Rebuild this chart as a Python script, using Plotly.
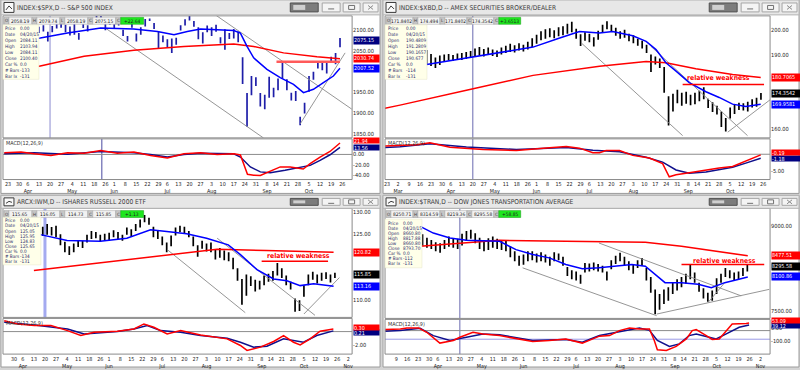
import plotly.graph_objects as go
import pandas as pd

W, H = 800, 370
FONT = "Liberation Sans Narrow, Arial Narrow, DejaVu Sans Condensed, Liberation Sans, Arial, sans-serif"

# ------------------------------------------------------------------ calendar
HOLIDAYS = ["2015-04-03", "2015-05-25", "2015-07-03", "2015-09-07"]
CAL_START, CAL_END = "2015-02-23", "2015-11-06"
MARK_DATE = "2015-04-20"
INFO_LABELS = ["Price", "Date", "Open", "High", "Low", "Close", "Car %", "# Bars", "Bar Ix"]
HEAD_LABELS = ["O", "H", "L", "C", "C"]
MACD_NAME = "MACD(12,26,9)"
NOTE = "relative weakness"
# every "*_day" value is a trading-day number counted from CAL_START

# ------------------------------------------------------------------ S&P 500
spx_title = "INDEX:$SPX,D -- S&P 500 INDEX"
spx_head = ["2058.19", "2079.74", "2058.19", "2075.15"]
spx_change = "+22.64"
spx_info = ["0.00", "04/20/15", "2084.11", "2103.94", "2084.11", "2100.40", "0.0", "-133", "-131"]
spx_first_bar = "2015-04-13"
spx_low = [2092, 2096, 2072, 2094, 2103, 2105, 2094, 2086, 2088, 2076,
           2104, 2096, 2117, 2122, 2123, 2099, 2112, 2102, 2110, 2085,
           2072, 2105, 2072, 2088, 2108, 2121, 2102, 2056, 2070, 2058,
           2044, 2064, 2098, 2110, 2122, 2107, 2077, 2067, 2094, 2085,
           2095, 2067, 2052, 2078, 2079, 2070, 1970, 1867, 1943, 1965,
           1916, 1909, 1937, 1938, 1955, 1983, 1955, 1930, 1929, 1871,
           1899, 1951, 1980, 2007, 2003, 1995, 2020, 2017, 2058]
spx_high = [2107, 2111, 2095, 2109, 2120, 2125, 2112, 2108, 2114, 2092,
            2117, 2111, 2123, 2134, 2133, 2127, 2122, 2119, 2122, 2100,
            2085, 2115, 2091, 2106, 2126, 2127, 2116, 2096, 2086, 2077,
            2079, 2081, 2111, 2125, 2133, 2121, 2106, 2094, 2110, 2106,
            2112, 2082, 2101, 2092, 2102, 2096, 2034, 1948, 1989, 1986,
            1948, 1944, 1987, 1961, 1983, 2021, 1981, 1949, 1953, 1891,
            1925, 1989, 1999, 2020, 2022, 2024, 2035, 2044, 2080]
spx_ma_day = [30, 34.6, 46.9, 61.9, 76.8, 87.5, 95, 101, 107, 122, 125, 128, 131, 137, 143, 149, 153.5, 158, 162.5, 167, 170]
spx_ma = [2078, 2080, 2092, 2104, 2101.6, 2096, 2088, 2096, 2101.6, 2098, 2092, 2060, 2032.5, 2004.8, 1985, 1969, 1949, 1957, 1973, 1989, 2007.5]
spx_ma200_day = [30, 34.6, 54.4, 76.9, 99.5, 122, 131, 144.5, 159.6, 170]
spx_ma200 = [2008, 2013, 2036.5, 2050.7, 2060, 2066, 2060, 2044.5, 2035, 2030.7]
spx_macd_day = [18.3, 25.9, 31.9, 39.4, 46.9, 54.4, 61.9, 69.4, 76.9, 84.4, 92, 99.5, 107, 114.5, 122,
                125, 128.2, 131, 134, 138.5, 143, 147.5, 152, 153.4, 156.5, 161, 165.5, 170]
spx_macd = [3.2, 4.6, 1.3, -1.9, 3.2, 2.5, 7.6, 2.5, 4.6, -1.9, -6.9, 1.3, 3.2, 0, 1.3,
            -1, -38, -40, -40.5, -33, -24, -24, -27, -28, -17.7, -5, 5.7, 21.9]
spx_sig_day = [18.3, 31.9, 46.9, 61.9, 76.9, 84.4, 92, 99.5, 107, 114.5, 122, 125, 129.5, 134, 138.5, 145.2, 152, 156.5, 161, 165.5, 170]
spx_sig = [1.3, 3.2, 0.3, 5.7, 3.2, 0, -5, 0, 2.5, 1.3, 1.3, -5, -24, -33.5, -35, -30.5, -24, -21, -11.4, -0.6, 13.6]
spx_trend_day = [[64, 135.5], [113.7, 175.3], [152, 172.3]]
spx_trend_val = [[2104, 1840], [2135.7, 1909.5], [1874, 2044.5]]
spx_resist_day = [141.3, 170]
spx_resist = 2023
spx_price_ticks = [2100, 2050, 1950, 1900, 1850]
spx_macd_ticks = [0, -20, -40]
spx_last = [2075.15, 2030.74, 2007.52]      # close, 200-day, short average
spx_macd_last = [21.94, 13.56]              # macd, signal
spx_cursor_day = 62.4

# ------------------------------------------------------------------ AMEX broker/dealer
xbd_title = "INDEX:$XBD,D -- AMEX SECURITIES BROKER/DEALER"
xbd_head = ["171.8402", "174.494", "171.8402", "174.3542"]
xbd_change = "+3.6513"
xbd_info = ["0.00", "04/20/15", "190.4809", "191.2809", "190.1657", "190.677", "0.0", "-114", "-131"]
xbd_first_bar = "2015-03-19"
xbd_low = [186.0, 185.4, 184.6, 185.8, 187.2, 187.6, 187.4, 188.0, 187.8, 188.2,
           188.6, 189.0, 189.6, 189.2, 189.8, 189.4, 189.0, 190.0, 190.6, 191.0,
           190.8, 191.6, 191.2, 192.0, 193.0, 194.4, 195.8, 196.4, 197.0, 196.6,
           197.4, 197.8, 198.4, 199.0, 196.4, 193.4, 195.6, 195.0, 193.2, 196.0,
           198.8, 200.2, 199.2, 197.6, 196.4, 196.8, 195.4, 194.6, 193.6, 192.4,
           190.6, 183.0, 186.0, 184.6, 174.6, 161.4, 167.0, 170.4, 169.4, 170.2,
           169.6, 170.0, 171.2, 172.0, 168.4, 166.8, 165.8, 160.8, 159.0, 164.2,
           166.0, 167.6, 167.4, 167.0, 168.6, 169.0, 171.8]
xbd_high = [191.8, 190.2, 188.8, 189.6, 190.0, 190.2, 189.8, 190.4, 190.6, 191.0,
            191.4, 192.4, 193.0, 192.2, 192.8, 192.0, 191.6, 192.8, 193.6, 194.4,
            193.8, 194.6, 194.0, 195.2, 196.6, 198.0, 199.4, 200.2, 200.6, 199.8,
            201.0, 201.4, 202.4, 203.2, 200.4, 198.2, 199.0, 198.4, 197.0, 199.6,
            202.0, 203.4, 202.0, 200.8, 199.4, 200.0, 198.4, 197.8, 196.4, 195.6,
            194.0, 190.0, 189.2, 188.4, 185.0, 173.2, 174.2, 175.8, 174.6, 175.0,
            173.8, 174.6, 175.4, 176.8, 172.2, 170.8, 169.4, 167.0, 164.4, 168.6,
            169.8, 170.6, 170.4, 171.0, 172.0, 172.6, 174.5]
xbd_ma_day = [18, 28.6, 39.1, 51.2, 66.4, 78.5, 87.5, 96.6, 102.6, 111.7, 117.8, 122.3, 126.8, 131.4, 137.4, 145, 151, 157.1, 163.1, 169.9]
xbd_ma = [186, 187.6, 189.1, 190.7, 193, 196.7, 199.3, 198.7, 199.3, 197.6, 195.3, 192, 186.7, 183.3, 178.7, 175, 172.7, 170, 169.1, 169.96]
xbd_ma200_day = [-1, 5.9, 36.1, 66.4, 96.6, 117.8, 126.8, 140.4, 157.1, 169.9]
xbd_ma200 = [168.3, 169.6, 175.6, 181.6, 185.3, 187.2, 186.7, 184.3, 182, 180.71]
xbd_macd_day = [-1, 5.9, 13.5, 19.5, 28.6, 43.7, 58.8, 73.9, 81.5, 87.5, 93.6, 96.6, 99.6, 105.7, 111.7,
                119.3, 125.3, 128.3, 131.4, 137.4, 145, 151, 157.1, 160.1, 163.1, 166.2, 169.9]
xbd_macd = [2.4, 2.57, 2.76, 3.34, 2.08, 1.4, 1.11, 1.89, 2.28, 1.79, 0.44, 0.44, 1.11, 1.11, -0.34,
            -1.11, -2.76, -6.6, -6.0, -5.4, -4.6, -4.0, -3.6, -2.8, -2.0, -1.2, -0.19]
xbd_sig_day = [-1, 5.9, 19.5, 36.1, 58.8, 81.5, 93.6, 105.7, 117.8, 125.3, 131.4, 137.4, 145, 151, 157.1, 163.1, 169.9]
xbd_sig = [2.0, 2.2, 3.1, 2.1, 1.4, 2.0, 1.2, 0.7, -0.9, -2.3, -4.6, -5.6, -5.2, -4.5, -3.8, -2.6, -1.18]
xbd_trend_day = [[88.3, 134.4], [120, 163.9], [154.9, 174.5]]
xbd_trend_val = [[194.7, 157.3], [193.3, 157.3], [158.7, 172]]
xbd_resist_day = [134.4, 171.4]
xbd_resist = 177.9
xbd_note_day, xbd_note_val = 150.5, 180.7
xbd_price_ticks = [200, 190, 160]
xbd_macd_ticks = [-5]
xbd_last = [174.3542, 180.7065, 169.9581]
xbd_macd_last = [-0.19, -1.18]

# ------------------------------------------------------------------ Russell 2000 ETF
iwm_title = "ARCX:IWM,D -- ISHARES RUSSELL 2000 ETF"
iwm_head = ["115.65", "116.05", "114.73", "115.85"]
iwm_change = "+1.13"
iwm_info = ["0.00", "04/20/15", "125.05", "125.95", "124.83", "125.65", "0.0", "-134", "-131"]
iwm_first_bar = "2015-04-15"
iwm_low = [123.8, 124.5, 124.8, 124.6, 124.2, 122.4, 120.8, 120.2, 120.8, 122.0,
           121.8, 123.0, 123.8, 124.0, 123.2, 123.4, 123.6, 124.2, 123.8, 123.4,
           124.8, 124.4, 125.6, 126.4, 127.6, 127.0, 124.2, 123.8, 122.4, 120.8,
           122.2, 124.6, 125.4, 125.0, 124.2, 122.2, 119.8, 121.6, 121.0, 120.8,
           119.2, 119.6, 119.0, 118.8, 117.0, 114.4, 109.0, 111.0, 113.2, 112.0,
           112.4, 113.4, 114.2, 114.4, 115.6, 115.0, 113.4, 112.4, 107.4, 107.6,
           110.8, 113.4, 114.6, 113.8, 114.4, 114.8, 114.0, 115.0]
iwm_high = [126.4, 126.6, 127.2, 126.5, 126.8, 124.9, 123.2, 122.2, 122.8, 123.6,
            123.4, 124.8, 125.6, 125.4, 124.8, 125.0, 125.2, 125.8, 125.4, 124.8,
            126.4, 126.0, 127.2, 128.2, 129.2, 128.6, 126.6, 125.6, 124.4, 123.0,
            124.6, 126.4, 126.8, 126.6, 125.6, 124.4, 122.4, 123.4, 122.8, 123.0,
            121.4, 121.8, 121.2, 120.8, 119.6, 117.2, 114.8, 115.8, 115.4, 114.6,
            114.4, 115.6, 116.0, 116.6, 118.4, 117.2, 115.6, 114.2, 110.4, 110.0,
            113.4, 115.8, 116.4, 115.8, 116.2, 116.3, 115.8, 116.2]
iwm_ma_day = [34, 37, 49, 64, 76, 86.7, 94, 103, 112, 121.8, 127.3, 134.8, 142.3, 148.3, 154.3, 160.4, 169.4]
iwm_ma = [124.9, 124.8, 123.5, 123.3, 124, 125.9, 125.5, 125, 124, 122.5, 120.3, 116.9, 114.8, 114.4, 113.3, 113.7, 113.16]
iwm_ma200_day = [34, 64, 94, 116.8, 139, 169.4]
iwm_ma200 = [116.7, 118.4, 120.2, 121.5, 121.2, 120.82]
iwm_macd_day = [20.6, 26.7, 34.2, 41.7, 49.2, 55.2, 61.2, 71.7, 79.2, 83.7, 88.2, 94.2, 100.3, 109.3, 121.3,
                127.3, 130.3, 136.3, 142.3, 146.8, 151.3, 154.3, 158.8, 163.3, 169.3]
iwm_macd = [1.57, 1.1, 0.86, 0.86, 0.14, -0.57, -0.1, 0.05, 0.37, 1.1, 0.62, -0.33, 0.14, -0.48, -1.05,
            -2.0, -2.71, -2.24, -1.43, -0.57, -1.53, -1.91, -1.05, 0.05, 0.37]
iwm_sig_day = [20.6, 34.2, 49.2, 56.7, 71.7, 79.2, 85.2, 91.2, 100.3, 109.3, 121.3, 127.3, 133.3, 139.3, 146.8, 151.3, 155.8, 161.8, 169.3]
iwm_sig = [1.33, 0.95, 0.37, -0.33, 0, 0.37, 0.86, 0.14, -0.1, -0.57, -0.95, -1.53, -2.24, -2.1, -1.05, -1.29, -1.53, -0.57, 0.1]
iwm_trend_day = [[94.3, 129.5], [116.8, 161], [156, 172]]
iwm_trend_val = [[121.4, 107.2], [124, 106.6], [106.9, 115.1]]
iwm_resist_day = [136.9, 166.9]
iwm_resist = 118.8
iwm_note_day, iwm_note_val = 153.4, 119.9
iwm_price_ticks = [130, 125, 110]
iwm_macd_ticks = [-2]
iwm_last = [115.85, 120.82, 113.16]
iwm_macd_last = [0.30, 0.21]

# ------------------------------------------------------------------ Dow Jones Transports
tran_title = "INDEX:$TRAN,D -- DOW JONES TRANSPORTATION AVERAGE"
tran_head = ["8250.71", "8314.59", "8219.36", "8295.58"]
tran_change = "+58.85"
tran_info = ["0.00", "04/20/15", "8660.80", "8817.88", "8660.80", "8793.70", "0.0", "-112", "-131"]
tran_first_bar = "2015-03-23"
tran_low = [8640, 8650, 8620, 8600, 8560, 8530, 8600, 8640, 8620, 8600,
            8660, 8740, 8780, 8700, 8600, 8560, 8580, 8620, 8600, 8580,
            8560, 8450, 8380, 8300, 8320, 8380, 8400, 8360, 8380, 8360,
            8300, 8380, 8400, 8300, 8120, 8060, 8040, 7980, 8180, 8200,
            8220, 8200, 8180, 8040, 8240, 8330, 8380, 8300, 8220, 8160,
            8260, 8300, 8040, 7820, 7440, 7520, 7620, 7680, 7800, 7860,
            7920, 7980, 8060, 8000, 7840, 7720, 7660, 7680, 7800, 8000,
            8100, 8080, 8040, 8050, 8120, 8200]
tran_high = [8880, 8860, 8800, 8760, 8720, 8700, 8760, 8820, 8790, 8780,
             8870, 8920, 8940, 8880, 8800, 8760, 8790, 8820, 8780, 8760,
             8740, 8650, 8560, 8480, 8500, 8560, 8560, 8520, 8540, 8500,
             8460, 8540, 8520, 8460, 8280, 8220, 8200, 8140, 8350, 8340,
             8360, 8330, 8300, 8200, 8400, 8480, 8530, 8460, 8380, 8320,
             8400, 8440, 8260, 8100, 7880, 7800, 7880, 7920, 8000, 8060,
             8100, 8160, 8320, 8180, 8000, 7900, 7820, 7860, 8080, 8160,
             8260, 8220, 8180, 8200, 8260, 8330]
tran_ma_day = [20.9, 26.9, 34.5, 42, 57.1, 64.6, 72.2, 79.7, 87.3, 94.8, 102.4, 109.9, 117.4, 123.5, 128, 132.5, 140, 147.6, 153.6, 159.7, 165.7, 170.2]
tran_ma = [9000, 8882, 8794, 8753, 8735, 8587, 8500, 8441, 8323, 8247, 8264, 8294, 8323, 8294, 8147, 8000, 8000, 7970, 7911, 8000, 8058, 8100.9]
tran_ma200_day = [20.9, 42, 57.1, 87.3, 123.5, 140, 155.1, 170.2]
tran_ma200 = [8647, 8705, 8753, 8735, 8717, 8647, 8558, 8477.5]
tran_macd_day = [5, 11.9, 14.9, 20.2, 23.9, 29.9, 36, 39, 45, 49.5, 57.1, 64.6, 72.2, 79.7, 87.3, 94.8,
                 102.6, 107.2, 111.7, 116.3, 120.8, 125.4, 127.6, 129, 133.1, 137.6, 142.2, 144.9, 146.7,
                 151.3, 154, 157.2, 160.4, 163.1, 169.5, 170.8]
tran_macd = [8, 11, 19, 19, -12, -90, -71, -48, -12, -24, -36, -60, -79, -71, -60, -90,
             -40, -36, 0, 19, 11, 11, -71, -138, -143, -114, -60, 0, 7,
             -36, -64, -60, 0, 47, 51, 55]
tran_sig_day = [5, 11.9, 20.9, 26.9, 34.5, 42, 49.5, 57.1, 72.2, 87.3, 94.8, 102.6, 111.7, 120.8, 125.4, 129, 134.5, 139, 143.5, 146.7, 152.6, 155.8, 160.4, 166.3, 170.8]
tran_sig = [-4, 0, 17, -36, -71, -48, -24, -30, -71, -65, -83, -36, -7, 19, 2, -71, -114, -96, -36, -24, -48, -60, -24, 24, 40]
tran_trend_day = [[67.6, 128.7], [102.4, 167.2], [128.7, 180], [152.1, 159.7]]
tran_trend_val = [[8264, 7412], [8705, 7765], [7441, 7881], [7647, 8000]]
tran_resist_day = [140, 177.7]
tran_resist = 8323
tran_note_day, tran_note_val = 159.5, 8393
tran_macd_level = -62
tran_price_ticks = [9000, 7500]
tran_macd_ticks = [0, -100]
tran_last = [8295.58, 8477.51, 8100.86]
tran_macd_last = [53.09, 39.12]

# ------------------------------------------------------------------ build
cal = pd.bdate_range(CAL_START, CAL_END, freq="C", holidays=HOLIDAYS)
day_no = {d.strftime("%Y-%m-%d"): i for i, d in enumerate(cal)}
weeks = cal.isocalendar().week.to_numpy()
tick_days, tick_text = [], []
prev_month = None
for i, d in enumerate(cal):
    if i == 0 or weeks[i] != weeks[i - 1]:
        lab = str(d.day)
        if prev_month is not None and d.month != prev_month:
            lab += "<br>" + d.strftime("%b")
        prev_month = d.month
        tick_days.append(i)
        tick_text.append(lab)

DATA = [
    dict(title=spx_title, head=spx_head, change=spx_change, info=spx_info, first=spx_first_bar,
         low=spx_low, high=spx_high, ma_day=spx_ma_day, ma=spx_ma, ma200_day=spx_ma200_day, ma200=spx_ma200,
         macd_day=spx_macd_day, macd=spx_macd, sig_day=spx_sig_day, sig=spx_sig,
         trend_day=spx_trend_day, trend_val=spx_trend_val, resist_day=spx_resist_day, resist=spx_resist,
         note=None, pticks=spx_price_ticks, mticks=spx_macd_ticks, last=spx_last, mlast=spx_macd_last,
         dec=2, level=None, cursor=spx_cursor_day),
    dict(title=xbd_title, head=xbd_head, change=xbd_change, info=xbd_info, first=xbd_first_bar,
         low=xbd_low, high=xbd_high, ma_day=xbd_ma_day, ma=xbd_ma, ma200_day=xbd_ma200_day, ma200=xbd_ma200,
         macd_day=xbd_macd_day, macd=xbd_macd, sig_day=xbd_sig_day, sig=xbd_sig,
         trend_day=xbd_trend_day, trend_val=xbd_trend_val, resist_day=xbd_resist_day, resist=xbd_resist,
         note=(xbd_note_day, xbd_note_val), pticks=xbd_price_ticks, mticks=xbd_macd_ticks, last=xbd_last,
         mlast=xbd_macd_last, dec=4, level=None, cursor=None),
    dict(title=iwm_title, head=iwm_head, change=iwm_change, info=iwm_info, first=iwm_first_bar,
         low=iwm_low, high=iwm_high, ma_day=iwm_ma_day, ma=iwm_ma, ma200_day=iwm_ma200_day, ma200=iwm_ma200,
         macd_day=iwm_macd_day, macd=iwm_macd, sig_day=iwm_sig_day, sig=iwm_sig,
         trend_day=iwm_trend_day, trend_val=iwm_trend_val, resist_day=iwm_resist_day, resist=iwm_resist,
         note=(iwm_note_day, iwm_note_val), pticks=iwm_price_ticks, mticks=iwm_macd_ticks, last=iwm_last,
         mlast=iwm_macd_last, dec=2, level=None, cursor=None),
    dict(title=tran_title, head=tran_head, change=tran_change, info=tran_info, first=tran_first_bar,
         low=tran_low, high=tran_high, ma_day=tran_ma_day, ma=tran_ma, ma200_day=tran_ma200_day, ma200=tran_ma200,
         macd_day=tran_macd_day, macd=tran_macd, sig_day=tran_sig_day, sig=tran_sig,
         trend_day=tran_trend_day, trend_val=tran_trend_val, resist_day=tran_resist_day, resist=tran_resist,
         note=(tran_note_day, tran_note_val), pticks=tran_price_ticks, mticks=tran_macd_ticks, last=tran_last,
         mlast=tran_macd_last, dec=2, level=tran_macd_level, cursor=None),
]

STYLE = [
    dict(win=(0, 0, 380, 195), th=15, plot=(2, 352), price=(16, 139), macd=(140, 181),
         xcal=(20, 7, 2.219), pcal=(2100, 30, 0.42), mcal=(155.7, 0.525), mshift=0,
         bar="#1e1ea8", close_bg="#000080", info=(2, 25, 38, 80, 16.5, 28.3, 6.1),
         head=(3, 21, 23), box_w=25, mark=("#8c8cd0", 1, False), rw=2.5, rc="#ff5a5a"),
    dict(win=(383, 0, 800, 195), th=15, plot=(385, 771), price=(16, 139), macd=(140, 181),
         xcal=(0, 387, 2.205), pcal=(200, 30, 2.5), mcal=(155.5, 3.44), mshift=0,
         bar="#000000", close_bg="#000000", info=(385, 25, 427, 80, 20, 28.3, 6.1),
         head=(386, 21, 22), box_w=28, mark=("#6a6ab0", 1, True), rw=1.5, rc="#ff0000"),
    dict(win=(0, 197, 380, 370), th=13, plot=(2, 352), price=(210, 320), macd=(321, 357),
         xcal=(20, 1.9, 2.219), pcal=(130, 213.3, 4.47), mcal=(334.3, 7.0), mshift=0,
         bar="#000000", close_bg="#000000", info=(2, 219, 40, 267, 16.5, 222.7, 5.1),
         head=(3, 215.8, 23), box_w=25, mark=("#a4aaf0", 3, False), rw=1.5, rc="#ff0000"),
    dict(win=(383, 197, 800, 370), th=13, plot=(385, 771), price=(210, 321), macd=(322, 357),
         xcal=(39, 460, 2.2), pcal=(9000, 228.3, 0.05667), mcal=(333.3, 0.14), mshift=-3,
         bar="#000000", close_bg="#000000", info=(385, 221, 422, 270, 17, 225, 5.1),
         head=(386, 215.8, 22), box_w=28, mark=("#6a6ab0", 1, True), rw=1.5, rc="#ff0000"),
]

fig = go.Figure()
shapes, annotations, layout = [], [], {}


def rect(x0, y0, x1, y1, fill=None, line=None, lw=1.0, layer="above"):
    shapes.append(dict(type="rect", xref="paper", yref="paper",
                       x0=x0 / W, x1=x1 / W, y0=1 - y1 / H, y1=1 - y0 / H,
                       fillcolor=fill if fill else "rgba(0,0,0,0)",
                       line=dict(color=line if line else "rgba(0,0,0,0)", width=lw if line else 0),
                       layer=layer))


def seg(x0, y0, x1, y1, color, lw=1.0):
    shapes.append(dict(type="line", xref="paper", yref="paper", x0=x0 / W, x1=x1 / W,
                       y0=1 - y0 / H, y1=1 - y1 / H, line=dict(color=color, width=lw), layer="above"))


def label(x, y, s, size=6.5, color="#222222", anchor="left", bg=None, family=FONT):
    a = dict(xref="paper", yref="paper", x=x / W, y=1 - y / H, text=s, showarrow=False,
             xanchor=anchor, yanchor="middle", font=dict(family=family, size=size, color=color), borderpad=0)
    if bg:
        a["bgcolor"] = bg
    annotations.append(a)


def line_trace(xs, ys, color, width, xa, ya):
    fig.add_trace(go.Scatter(x=xs, y=ys, mode="lines", line=dict(color=color, width=width),
                             xaxis=xa, yaxis=ya, hoverinfo="skip", showlegend=False))


for k, (D, S) in enumerate(zip(DATA, STYLE)):
    n1, n2 = 2 * k + 1, 2 * k + 2
    xa1, ya1 = ("x", "y") if n1 == 1 else (f"x{n1}", f"y{n1}")
    xa2, ya2 = f"x{n2}", f"y{n2}"
    s1 = "" if n1 == 1 else str(n1)
    s2 = str(n2)
    x0, x1 = S["plot"]
    d0, p0, ppd = S["xcal"]
    xr = [d0 + (x0 - p0) / ppd, d0 + (x1 - p0) / ppd]
    pv, py0, ppu = S["pcal"]
    ptop, pbot = S["price"]
    pr = [pv - (pbot - py0) / ppu, pv + (py0 - ptop) / ppu]
    mz, mppu = S["mcal"]
    mtop, mbot = S["macd"]
    mr = [-(mbot - mz) / mppu, (mz - mtop) / mppu]
    tf = dict(family=FONT, size=5.6, color="#222222")
    keep = [j for j, t in enumerate(tick_days) if xr[0] + 0.8 <= t <= xr[1] - 1]

    layout["xaxis" + s1] = dict(domain=[x0 / W, x1 / W], range=xr, anchor=ya1, showticklabels=False,
                                showgrid=False, zeroline=False, showline=False, ticks="")
    layout["yaxis" + s1] = dict(domain=[1 - pbot / H, 1 - ptop / H], range=pr, anchor=xa1, side="right",
                                tickvals=D["pticks"], ticktext=[f"{v:.2f}" for v in D["pticks"]],
                                tickfont=tf, showgrid=False, zeroline=False, showline=False, ticks="")
    layout["xaxis" + s2] = dict(domain=[x0 / W, x1 / W], range=xr, anchor=ya2,
                                tickvals=[tick_days[j] for j in keep], ticktext=[tick_text[j] for j in keep],
                                tickangle=0, tickfont=dict(family=FONT, size=5.4, color="#222222"),
                                showgrid=False, zeroline=False, showline=False, ticks="")
    layout["yaxis" + s2] = dict(domain=[1 - mbot / H, 1 - mtop / H], range=mr, anchor=xa2, side="right",
                                tickvals=D["mticks"], ticktext=[f"{v:.2f}" for v in D["mticks"]],
                                tickfont=tf, showgrid=False, zeroline=False, showline=False, ticks="",
                                ticklabelshift=int(S["mshift"]))

    # window chrome (below the traces)
    wx0, wy0, wx1, wy1 = S["win"]
    rect(wx0, wy0, wx1, wy1, fill="#ffffff", line="#9c9c9c", layer="below")

    # vertical date marker
    mc, mw, through = S["mark"]
    md = day_no[MARK_DATE]
    shapes.append(dict(type="line", xref=xa1, yref=ya1 + " domain", x0=md, x1=md, y0=0, y1=1,
                       line=dict(color=mc, width=mw), layer="below"))
    if through:
        shapes.append(dict(type="line", xref=xa2, yref=ya2 + " domain", x0=md, x1=md, y0=0, y1=1,
                           line=dict(color=mc, width=mw), layer="below"))
    if D["cursor"] is not None:
        shapes.append(dict(type="line", xref=xa2, yref=ya2 + " domain", x0=D["cursor"], x1=D["cursor"],
                           y0=0, y1=1, line=dict(color="#4a4aa0", width=1), layer="below"))

    # price bars
    s = day_no[D["first"]]
    bx, by = [], []
    for j, (lo, hi) in enumerate(zip(D["low"], D["high"])):
        bx += [s + 2 * j, s + 2 * j, None]
        by += [lo, hi, None]
    line_trace(bx, by, S["bar"], 1.7, xa1, ya1)

    # trend lines
    for td, tv in zip(D["trend_day"], D["trend_val"]):
        line_trace(td, tv, "#8a8a8a", 0.9, xa1, ya1)
    # averages
    line_trace(D["ma200_day"], D["ma200"], "#ff0000", 1.5, xa1, ya1)
    line_trace(D["ma_day"], D["ma"], "#0000ff", 1.5, xa1, ya1)
    # resistance
    line_trace(D["resist_day"], [D["resist"]] * 2, S["rc"], S["rw"], xa1, ya1)
    if D["note"]:
        annotations.append(dict(xref=xa1, yref=ya1, x=D["note"][0], y=D["note"][1], text="<b>" + NOTE + "</b>",
                                showarrow=False, xanchor="center", yanchor="middle",
                                font=dict(family=FONT, size=6.8, color="#ff0000")))

    # MACD pane
    shapes.append(dict(type="line", xref=xa2 + " domain", yref=ya2, x0=0, x1=1, y0=0, y1=0,
                       line=dict(color="#8c8c8c", width=1), layer="below"))
    if D["level"] is not None:
        shapes.append(dict(type="line", xref=xa2 + " domain", yref=ya2, x0=0, x1=1, y0=D["level"], y1=D["level"],
                           line=dict(color="#9a9ae6", width=1), layer="below"))
    line_trace(D["sig_day"], D["sig"], "#10108c", 1.5, xa2, ya2)
    line_trace(D["macd_day"], D["macd"], "#ff0000", 1.5, xa2, ya2)

    # value boxes on the right scale
    bw = S["box_w"]
    bf = dict(family=FONT, size=5.4, color="#ffffff")
    for v, bg in zip(D["last"], [S["close_bg"], "#ff0000", "#0000ff"]):
        annotations.append(dict(xref="paper", yref=ya1, x=(x1 + 1) / W, y=v, text=f"{v:.{D['dec']}f}",
                                showarrow=False, xanchor="left", yanchor="middle", width=bw, height=6.5,
                                align="left", bgcolor=bg, borderpad=0, font=bf))
    m_red, m_sig = D["mlast"]
    y_red = mz - m_red * mppu
    y_sig = mz - m_sig * mppu
    red_c = y_red - 2.5
    sig_c = max(y_sig, red_c + 5.2)
    annotations.append(dict(xref="paper", yref=ya2, x=(x1 + 1) / W, y=m_sig, text=f"{m_sig:.2f}",
                            showarrow=False, xanchor="left", yanchor="middle", width=bw, height=5.2,
                            yshift=-(sig_c - y_sig), align="left", bgcolor="#000080", borderpad=0, font=bf))
    annotations.append(dict(xref="paper", yref=ya2, x=(x1 + 1) / W, y=m_red, text=f"{m_red:.2f}",
                            showarrow=False, xanchor="left", yanchor="middle", width=bw, height=5.2,
                            yshift=2.5, align="left", bgcolor="#ff0000", borderpad=0, font=bf))

    # pane frames
    rect(x0, ptop, x1, pbot, line="#8a8a8a", lw=1)
    rect(x0, mtop, x1, mbot, line="#8a8a8a", lw=1)
    label(x0 + 2, mtop + 4.5, MACD_NAME, size=5.4, color="#333333")

    # title bar
    th = S["th"]
    rect(wx0, wy0, wx1, wy0 + th, fill="#e7e7e7", line="#b4b4b4", lw=1)
    rect(wx0 + 3, wy0 + 2.5, wx0 + 13, wy0 + th - 2.5, fill="#fafafa", line="#3a3a3a", lw=1)
    seg(wx0 + 5, wy0 + th - 5, wx0 + 8, wy0 + 6, "#3a3a3a", 1)
    seg(wx0 + 8, wy0 + 6, wx0 + 11, wy0 + th - 6, "#3a3a3a", 1)
    label(wx0 + 15, wy0 + th / 2 + 0.5, D["title"], size=6.6, color="#3c3c3c")
    bt, bb = wy0 + 3, wy0 + th - 3
    rect(wx1 - 90, bt, wx1 - 62, bb, fill="#7c7c7c", line="#505050", lw=1)
    rect(wx1 - 87, bt + 2, wx1 - 75, bb - 2, fill="#d0d0d0")
    for bxa, bxb in [(wx1 - 58, wx1 - 40), (wx1 - 37, wx1 - 20), (wx1 - 17, wx1 - 2)]:
        rect(bxa, bt, bxb, bb, fill="#f4f4f4", line="#a6a6a6", lw=1)
    cy = (bt + bb) / 2
    seg(wx1 - 52, cy + 1.5, wx1 - 46, cy + 1.5, "#707070", 1)
    rect(wx1 - 31.5, cy - 2, wx1 - 25.5, cy + 2, line="#707070", lw=1)
    seg(wx1 - 12, cy - 2, wx1 - 7, cy + 2, "#8a8a8a", 1)
    seg(wx1 - 12, cy + 2, wx1 - 7, cy - 2, "#8a8a8a", 1)

    # OHLC header strip
    hx, hy, vw = S["head"]
    cx = hx
    vals = D["head"] + [D["change"]]
    for j, (lab, v) in enumerate(zip(HEAD_LABELS, vals)):
        rect(cx, hy - 3.5, cx + 5, hy + 3.5, fill="#c6c6c6", line="#9a9a9a", lw=0.5)
        label(cx + 2.5, hy, lab, size=4.5, color="#404040", anchor="center")
        cx += 5
        last = j == len(vals) - 1
        rect(cx, hy - 3.5, cx + vw, hy + 3.5, fill="#1ee61e" if last else "#f2f2f2",
             line="#129a12" if last else "#a8a8a8", lw=0.5)
        label(cx + vw / 2, hy, v, size=4.9, color="#202020", anchor="center")
        cx += vw

    # info box
    ix0, iy0, ix1, iy1, voff, yfirst, dy = S["info"]
    rect(ix0, iy0, ix1, iy1, fill="#ffffe9", line="#e6e6c8", lw=0.5)
    for j, (lab, v) in enumerate(zip(INFO_LABELS, D["info"])):
        label(ix0 + 1.5, yfirst + j * dy, lab, size=4.7, color="#2e2e6e")
        label(ix0 + voff, yfirst + j * dy, v, size=4.7, color="#2e2e6e")

layout.update(dict(width=W, height=H, margin=dict(l=0, r=0, t=0, b=0), paper_bgcolor="#d4d4d4",
                   plot_bgcolor="rgba(0,0,0,0)", showlegend=False, shapes=shapes, annotations=annotations,
                   font=dict(family=FONT)))
fig.update_layout(**layout)
fig.write_html("out.html", config={"displayModeBar": False, "staticPlot": True},
               post_script="document.body.style.margin='0';document.body.style.overflow='hidden';")
